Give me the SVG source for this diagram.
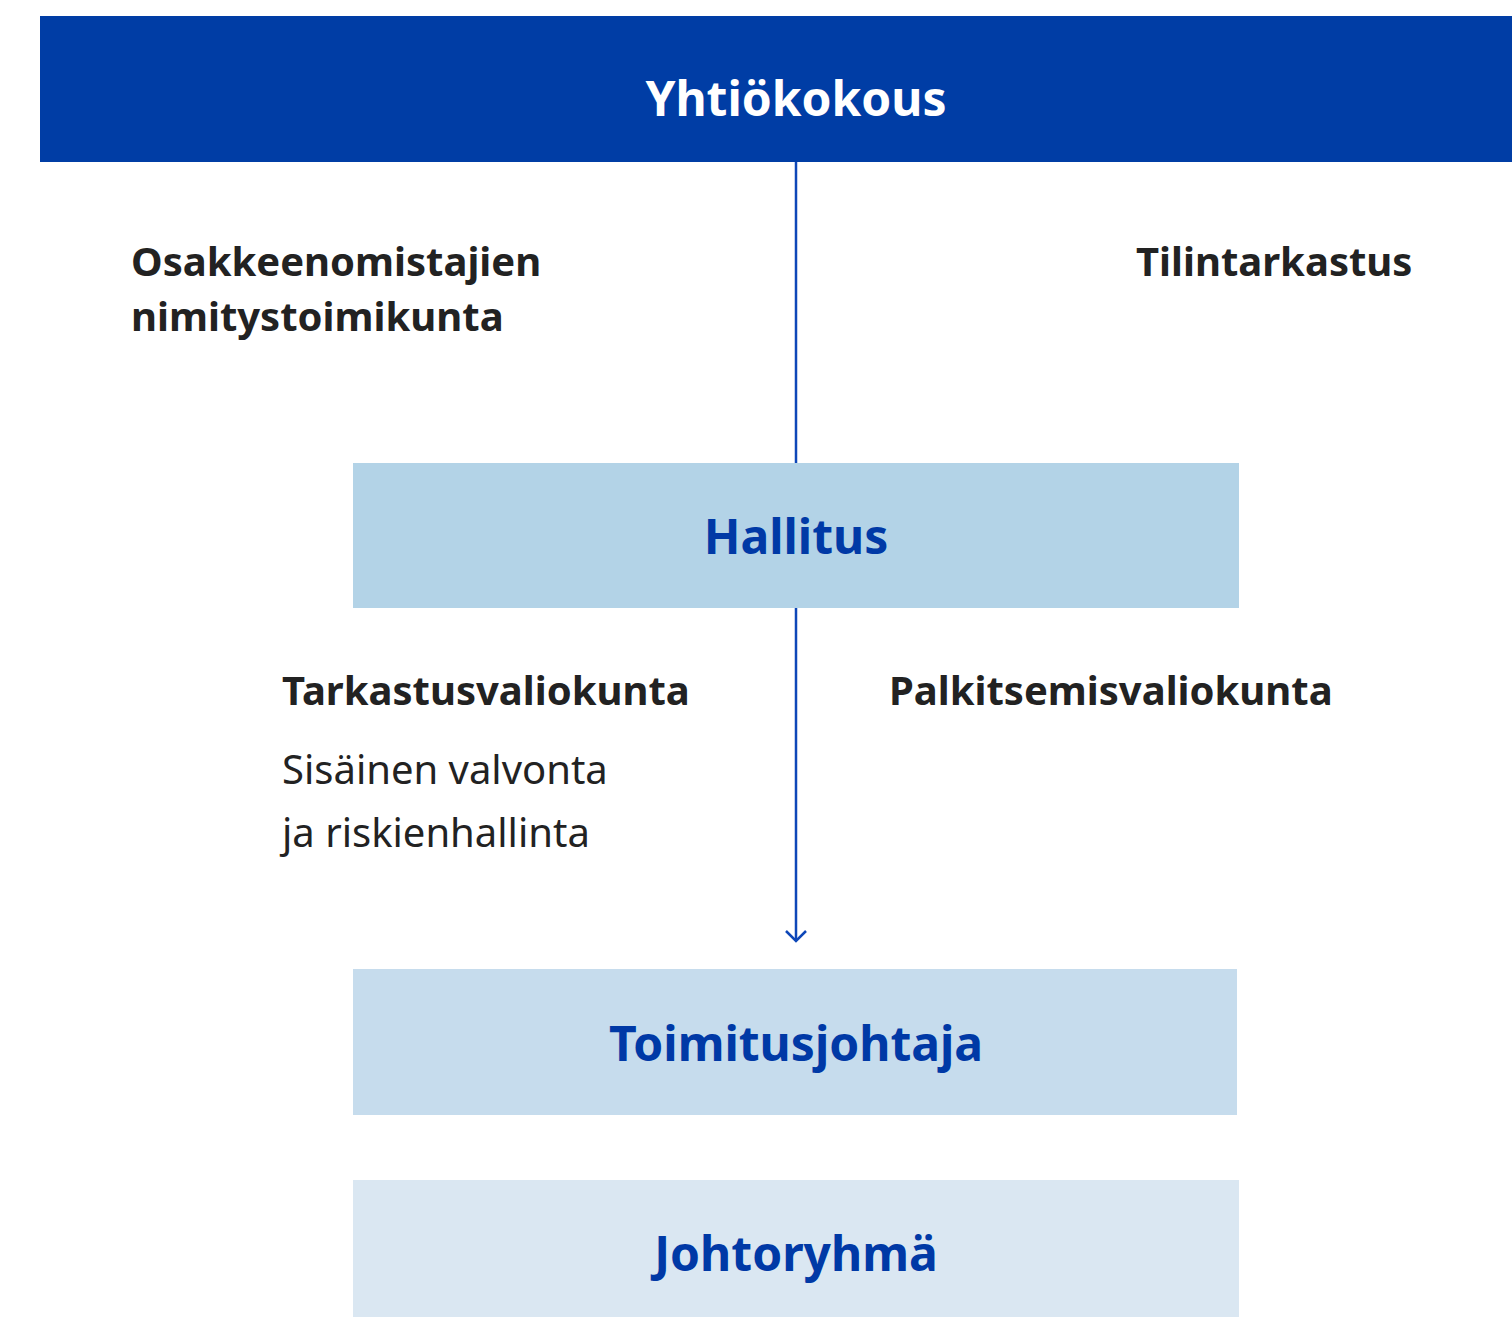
<svg xmlns="http://www.w3.org/2000/svg" width="1512" height="1317" viewBox="0 0 1512 1317">
<style>
.h{font-family:"Noto Sans","Open Sans",sans-serif;font-weight:700;text-anchor:middle}
.w{fill:#ffffff;font-size:48px}
.b{fill:#0039A6;font-size:48px}
.l{font-family:"Noto Sans","Open Sans",sans-serif;font-weight:700;fill:#222222;font-size:40px}
.r{font-family:"Noto Sans","Open Sans",sans-serif;font-weight:400;fill:#222222;font-size:40px}
</style>
<defs>
<marker id="arr" markerWidth="16" markerHeight="24" refX="13" refY="12" orient="auto" markerUnits="userSpaceOnUse" viewBox="0 0 16 24">
<path d="M3,2 L13,12 L3,22" fill="none" stroke="#0E47B8" stroke-width="2.5"/>
</marker>
</defs>
<rect width="1512" height="1317" fill="#ffffff"/>
<g id="connectors">
<line x1="796" y1="162" x2="796" y2="463" stroke="#0E47B8" stroke-width="2.5"/>
<line x1="796" y1="608" x2="796" y2="941" stroke="#0E47B8" stroke-width="2.5" marker-end="url(#arr)"/>
</g>
<g id="yhtiokokous">
<rect x="40" y="16" width="1472" height="146" fill="#003DA5"/>
<text class="h w" x="796" y="116">Yhtiökokous</text>
</g>
<g id="nimitystoimikunta">
<text class="l" x="131" y="276">Osakkeenomistajien</text>
<text class="l" x="131" y="331">nimitystoimikunta</text>
</g>
<g id="tilintarkastus">
<text class="l" x="1136" y="276">Tilintarkastus</text>
</g>
<g id="hallitus">
<rect x="353" y="463" width="886" height="145" fill="#B3D3E7"/>
<text class="h b" x="796" y="554">Hallitus</text>
</g>
<g id="tarkastusvaliokunta">
<text class="l" x="282" y="705">Tarkastusvaliokunta</text>
<text class="r" x="282" y="784">Sisäinen valvonta</text>
<text class="r" x="282" y="847">ja riskienhallinta</text>
</g>
<g id="palkitsemisvaliokunta">
<text class="l" x="889" y="705">Palkitsemisvaliokunta</text>
</g>
<g id="toimitusjohtaja">
<rect x="353" y="969" width="884" height="146" fill="#C6DCED"/>
<text class="h b" x="796" y="1061">Toimitusjohtaja</text>
</g>
<g id="johtoryhma">
<rect x="353" y="1180" width="886" height="137" fill="#DAE7F2"/>
<text class="h b" x="796" y="1271">Johtoryhmä</text>
</g>
</svg>
